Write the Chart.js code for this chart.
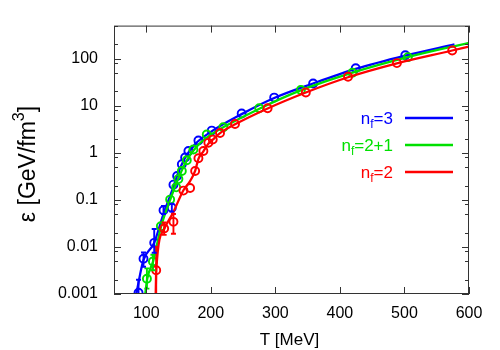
<!DOCTYPE html>
<html><head><meta charset="utf-8">
<script src="https://cdn.jsdelivr.net/npm/chart.js@4.4.0/dist/chart.umd.min.js"></script>
<style>html,body{margin:0;padding:0;background:#fff}canvas{display:block}</style>
</head><body>
<canvas id="c" width="500" height="350"></canvas>
<script>
// ---- tick labels ----
const xTicks = [100, 200, 300, 400, 500, 600];
const yTicks = [0.001, 0.01, 0.1, 1, 10, 100];
const yMinor = [2, 5, 8];

// ---- nf=3 (blue) data points ----
const t3  = [88, 95.7, 112.3, 126.7, 139.6, 142.1, 147.8, 155.1, 160.2, 165.3, 180.8, 201.5, 247.8, 298.2, 358.5, 424.5, 501.3];
const e3  = [0.00106, 0.0056, 0.0122, 0.060, 0.068, 0.21, 0.32, 0.57, 0.79, 1.09, 1.82, 2.95, 6.8, 14.8, 29.5, 62, 117];
const e3lo = [0.0004, 0.0038, 0.0075, 0.05, 0.056, null, null, null, null, null, null, null, null, null, null, null, null];
const e3hi = [0.002, 0.0076, 0.024, 0.074, 0.083, null, null, null, null, null, null, null, null, null, null, null, null];
// nf=3 curve
const c3t = [84.5, 95.5, 112, 126, 140, 149.4, 160.2, 175.7, 198.9, 247.8, 298.2, 358.5, 424.5, 501.3, 577.5];
const c3e = [0.001, 0.0052, 0.012, 0.047, 0.157, 0.37, 0.78, 1.52, 2.7, 6.6, 14.5, 29.5, 60, 115, 200];

// ---- nf=2+1 (green) data points ----
const t21 = [101, 110.3, 122.6, 137, 146.3, 149.8, 155.1, 162.8, 173, 193.7, 219.4, 275, 339.5, 419.4, 505.3];
const e21 = [0.0021, 0.0049, 0.0275, 0.101, 0.184, 0.275, 0.41, 0.69, 1.17, 2.44, 3.47, 8.8, 21.4, 49.7, 107];
const e21lo = [0.0013, 0.0032, null, null, null, null, null, null, null, null, null, null, null, null, null];
const e21hi = [0.0035, 0.0068, null, null, null, null, null, null, null, null, null, null, null, null, null];
// nf=2+1 curve
const c21t = [98.4, 101.5, 110.7, 123.1, 137, 149.4, 163.3, 178.7, 198.8, 222, 276, 338, 418.3, 504.9, 600];
const c21e = [0.001, 0.0021, 0.005, 0.0275, 0.1, 0.28, 0.71, 1.38, 2.35, 3.63, 8.7, 20.8, 49.6, 107, 216];

// ---- nf=2 (red) data points ----
const t2  = [115.4, 127.7, 142.1, 157.6, 167.9, 175.7, 180.8, 188.5, 196.2, 203, 214.3, 237.5, 288, 347.2, 412.6, 488.3, 574];
const e2  = [0.0032, 0.0246, 0.034, 0.157, 0.178, 0.41, 0.76, 1.09, 1.62, 1.9, 2.63, 4.06, 8.8, 19, 41, 80, 148];
const e2lo = [0.001, 0.018, 0.019, null, null, null, null, null, null, null, null, null, null, null, null, null, null];
const e2hi = [0.01, 0.033, 0.05, null, null, null, null, null, null, null, null, null, null, null, null, null, null];
// nf=2 curve
const c2t = [114.6, 115.4, 127.7, 141.7, 157.6, 167.9, 175.7, 180.8, 188.5, 196.2, 203, 214.3, 237.5, 288, 347.2, 412.6, 488.3, 574, 600];
const c2e = [0.001, 0.0031, 0.024, 0.054, 0.16, 0.25, 0.41, 0.74, 1.07, 1.55, 1.9, 2.6, 4.0, 8.7, 19, 40, 79, 148, 180];

const BLUE = '#0000ff', GREEN = '#00e000', RED = '#ff0000';
const FONT = '"Liberation Sans", Arial, sans-serif';

const zip = (a, b) => a.map((v, i) => ({x: v, y: b[i]}));

function curveDs(t, e, col) {
  return {data: zip(t, e), showLine: true, borderColor: col, borderWidth: 2.3,
    pointRadius: 0, cubicInterpolationMode: 'monotone', fill: false};
}
function pointDs(t, e, lo, hi, col) {
  return {data: zip(t, e), showLine: false, borderColor: col, backgroundColor: 'rgba(0,0,0,0)',
    pointRadius: 4, pointBorderWidth: 1.9, pointStyle: 'circle', errLo: lo, errHi: hi};
}

const deco = {
  id: 'deco',
  afterDatasetsDraw(chart) {
    const ctx = chart.ctx, xs = chart.scales.x, ys = chart.scales.y, a = chart.chartArea;
    ctx.save();
    ctx.beginPath(); ctx.rect(a.left, a.top, a.right - a.left, a.bottom - a.top); ctx.clip();
    chart.data.datasets.forEach(ds => {
      if (!ds.errLo) return;
      ctx.strokeStyle = ds.borderColor; ctx.lineWidth = 1.9;
      ds.data.forEach((p, i) => {
        if (ds.errLo[i] == null) return;
        const x = xs.getPixelForValue(p.x);
        const y1 = ys.getPixelForValue(ds.errLo[i]);
        const y2 = ys.getPixelForValue(ds.errHi[i]);
        ctx.beginPath();
        ctx.moveTo(x, y1); ctx.lineTo(x, y2);
        ctx.moveTo(x - 2.5, y1); ctx.lineTo(x + 2.5, y1);
        ctx.moveTo(x - 2.5, y2); ctx.lineTo(x + 2.5, y2);
        ctx.stroke();
      });
    });
    ctx.restore();
  },
  afterDraw(chart) {
    const ctx = chart.ctx, xs = chart.scales.x, ys = chart.scales.y, a = chart.chartArea;
    ctx.save();
    ctx.strokeStyle = '#333'; ctx.lineWidth = 1;
    ctx.strokeRect(a.left + 0.5, a.top + 0.5, a.right - a.left - 1, a.bottom - a.top - 1);
    ctx.beginPath();
    xTicks.forEach(v => {
      const x = Math.round(xs.getPixelForValue(v)) + 0.5;
      ctx.moveTo(x, a.bottom); ctx.lineTo(x, a.bottom - 7);
      ctx.moveTo(x, a.top); ctx.lineTo(x, a.top + 7);
    });
    const decades = [0.001, 0.01, 0.1, 1, 10, 100];
    decades.forEach(d => {
      const y = Math.round(ys.getPixelForValue(d)) + 0.5;
      ctx.moveTo(a.left, y); ctx.lineTo(a.left + 7, y);
      ctx.moveTo(a.right, y); ctx.lineTo(a.right - 7, y);
      yMinor.forEach(m => {
        const v = d * m;
        if (v > ys.max) return;
        const ym = Math.round(ys.getPixelForValue(v)) + 0.5;
        ctx.moveTo(a.left, ym); ctx.lineTo(a.left + 4, ym);
        ctx.moveTo(a.right, ym); ctx.lineTo(a.right - 4, ym);
      });
    });
    ctx.stroke();

    // axis titles
    ctx.fillStyle = '#000';
    ctx.font = '17px ' + FONT;
    ctx.textAlign = 'center'; ctx.textBaseline = 'middle';
    ctx.fillText('T [MeV]', (a.left + a.right) / 2 - 2, 340);
    // y title rotated with superscript
    ctx.save();
    ctx.translate(27, 164);
    ctx.rotate(-Math.PI / 2);
    const p1 = 'ε [GeV/fm', p2 = '3', p3 = ']';
    const big = '23px ' + FONT, sml = '16px ' + FONT;
    ctx.font = big;
    const w1 = ctx.measureText(p1).width, w3 = ctx.measureText(p3).width;
    ctx.font = sml;
    const w2 = ctx.measureText(p2).width;
    let x0 = -(w1 + w2 + w3) / 2;
    ctx.textAlign = 'left'; ctx.textBaseline = 'alphabetic';
    ctx.font = big; ctx.fillText(p1, x0, 8);
    ctx.font = sml; ctx.fillText(p2, x0 + w1, -3);
    ctx.font = big; ctx.fillText(p3, x0 + w1 + w2, 8);
    ctx.restore();

    // legend
    const leg = [['3', BLUE, 118], ['2+1', GREEN, 145], ['2', RED, 172]];
    leg.forEach(([s, col, y]) => {
      ctx.fillStyle = col;
      ctx.textBaseline = 'alphabetic'; ctx.textAlign = 'left';
      ctx.font = '17px ' + FONT;
      const wn = ctx.measureText('n').width;
      const wr = ctx.measureText('=' + s).width;
      ctx.font = '12px ' + FONT;
      const wf = ctx.measureText('f').width;
      const xr = 393;
      const xs0 = xr - wr - wf - wn;
      const base = y + 6;
      ctx.font = '17px ' + FONT; ctx.fillText('n', xs0, base);
      ctx.font = '12px ' + FONT; ctx.fillText('f', xs0 + wn, base + 4);
      ctx.font = '17px ' + FONT; ctx.fillText('=' + s, xs0 + wn + wf, base);
      ctx.strokeStyle = col; ctx.lineWidth = 2.3;
      ctx.beginPath(); ctx.moveTo(405, y); ctx.lineTo(453, y); ctx.stroke();
    });
    ctx.restore();
  }
};

new Chart(document.getElementById('c'), {
  type: 'scatter',
  data: {
    datasets: [
      pointDs(t2, e2, e2lo, e2hi, RED),
      curveDs(c2t, c2e, RED),
      pointDs(t21, e21, e21lo, e21hi, GREEN),
      curveDs(c21t, c21e, GREEN),
      pointDs(t3, e3, e3lo, e3hi, BLUE),
      curveDs(c3t, c3e, BLUE)
    ]
  },
  options: {
    responsive: false, animation: false, devicePixelRatio: 1,
    layout: {padding: {top: 22, right: 31, left: 0, bottom: 0}},
    plugins: {legend: {display: false}, tooltip: {enabled: false}},
    scales: {
      x: {
        type: 'linear', min: 50, max: 600,
        grid: {display: false, drawTicks: false}, border: {display: false},
        afterBuildTicks: s => { s.ticks = xTicks.map(v => ({value: v})); },
        afterFit: s => { s.height = 56; },
        ticks: {color: '#000', font: {family: FONT, size: 16}, padding: 10, maxRotation: 0, autoSkip: false}
      },
      y: {
        type: 'logarithmic', min: 0.001, max: 500,
        grid: {display: false, drawTicks: false}, border: {display: false},
        afterBuildTicks: s => { s.ticks = yTicks.map(v => ({value: v})); },
        afterFit: s => { s.width = 114; },
        ticks: {color: '#000', font: {family: FONT, size: 16}, padding: 16, autoSkip: false,
          callback: v => String(v)}
      }
    }
  },
  plugins: [deco]
});
</script>
</body></html>
